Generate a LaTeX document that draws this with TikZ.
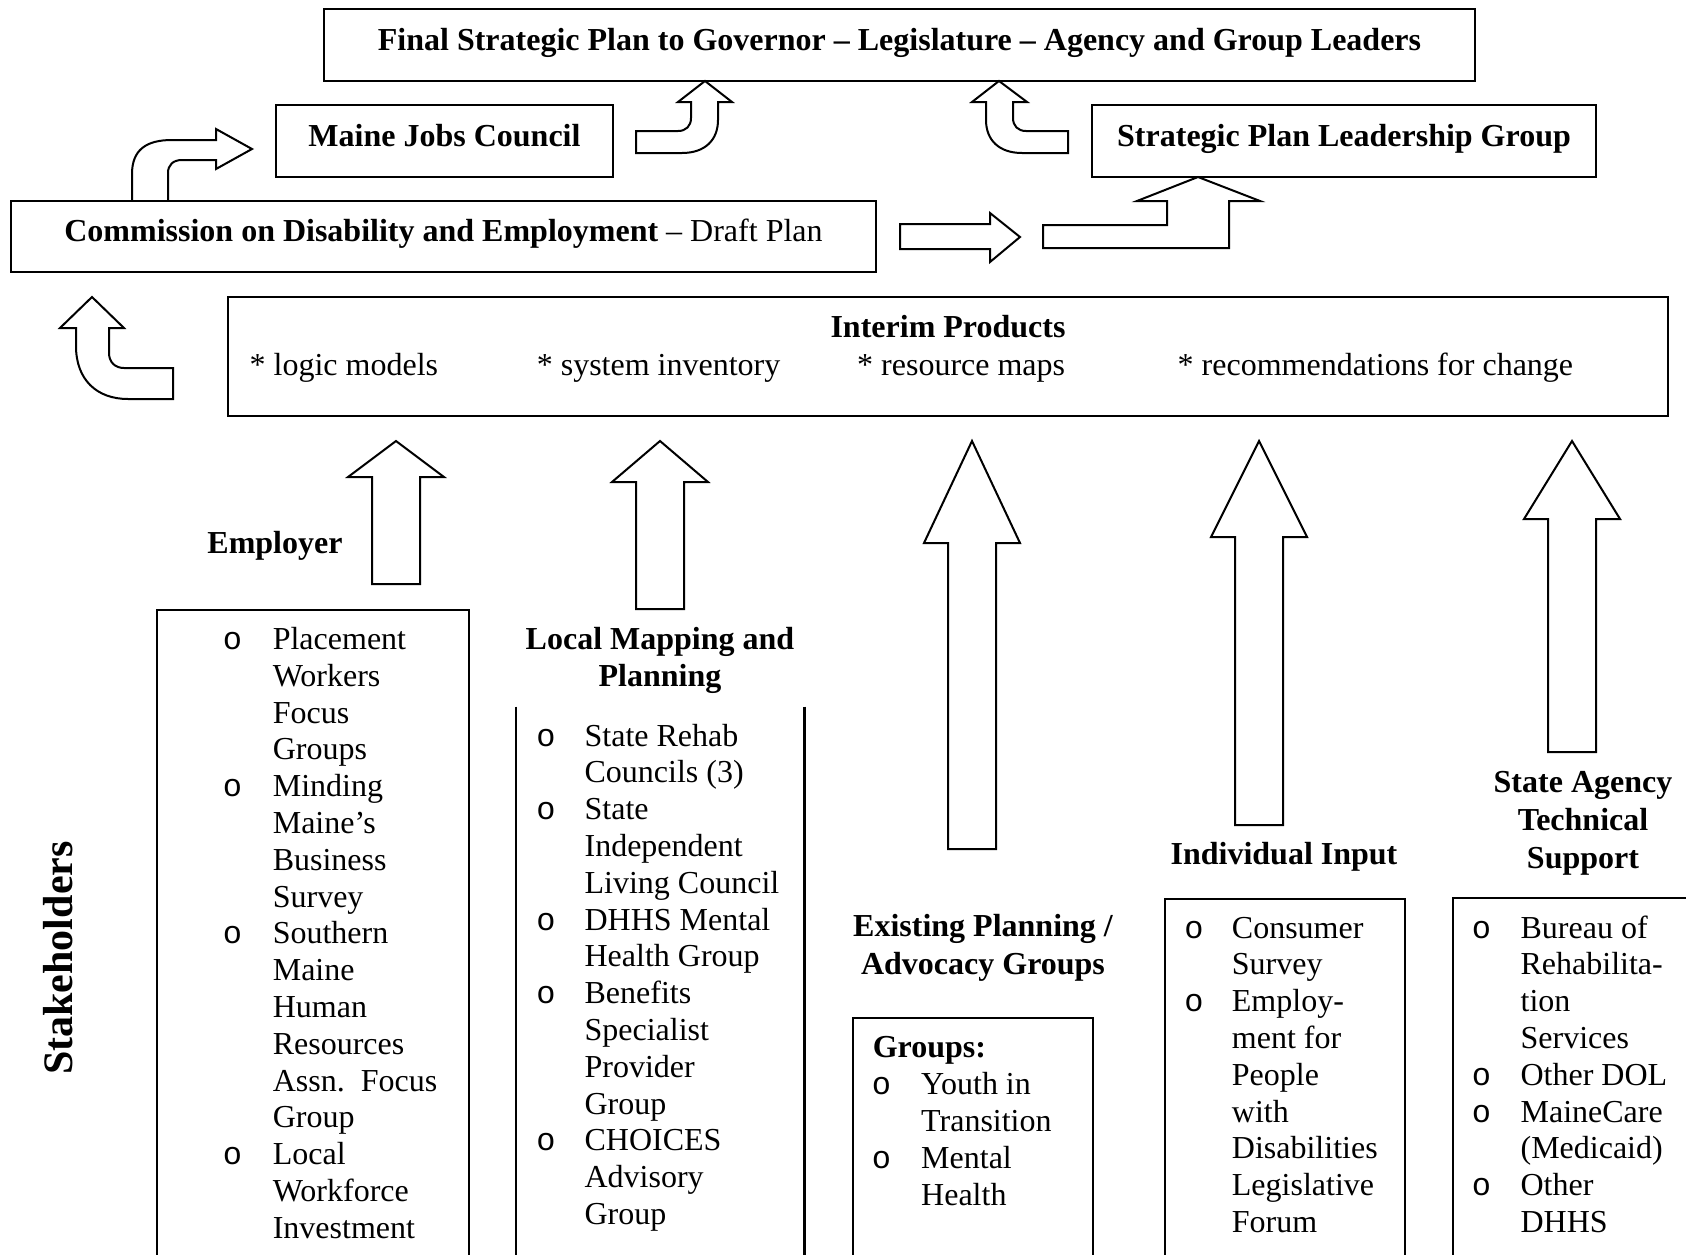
\documentclass[tikz,border=0pt]{standalone}
\usepackage{fontspec}
\setmainfont{Liberation Serif}
\newfontfamily\bulletfont{Liberation Mono}
\usepackage{tikz}
\usetikzlibrary{positioning}
\newcommand{\bsz}{\fontsize{32}{36.8}\selectfont}

\begin{document}
\begin{tikzpicture}[x=1pt, y=-1pt,
  box/.style={draw, line width=2.4pt, inner sep=0pt, text height=21.7pt, text depth=11pt},
  head/.style={font=\fontsize{32}{37.7}\selectfont\bfseries, align=center, inner sep=0pt},
  txt/.style={font=\bsz, inner sep=0pt},
  lne/.style={font=\bsz, anchor=base west, inner sep=0pt},
  bul/.style={font=\bsz\bulletfont, anchor=base, inner sep=0pt},
  blk/.style={draw, line width=2pt, line join=miter}]
\useasboundingbox (0,0) rectangle (1686,1255);
\clip (0,0) rectangle (1686,1255);
% plan levels
\node[box, head, minimum width=1151pt, minimum height=72pt] (final) at (899.5,45) {Final Strategic Plan to Governor -- Legislature -- Agency and Group Leaders};
\node[box, head, minimum width=337pt, minimum height=72pt] (mjc) at (444.5,141) {Maine Jobs Council};
\node[box, head, minimum width=504pt, minimum height=72pt] (splg) at (1344,141) {Strategic Plan Leadership Group};
\node[box, txt, minimum width=865pt, minimum height=71pt] (cde) at (443.5,236.5) {\textbf{Commission on Disability and Employment} -- Draft Plan};
\node[box, minimum width=1440pt, minimum height=119pt] (interim) at (948,356.5) {};
\node[head] (ititle) at (948,327) {Interim Products};
\foreach \x/\t [count=\i] in {249.5/logic models, 536.6/system inventory, 857/resource maps, 1177.5/recommendations for change}
  \node[lne] (item\i) at (\x,375) {* \t};
% bent arrows
\draw[blk] (76,328) -- (76,346) .. controls (76,380) and (97,399) .. (128,399) -- (173,399) -- (173,368) -- (124,368) .. controls (115,368) and (109,362) .. (109,353) -- (109,328) -- (124,328) -- (92,297) -- (60,328) -- cycle;
\draw[blk] (132,200) -- (132,174) .. controls (132,150) and (146,140) .. (172,140) -- (216,140) -- (216,129) -- (252,149) -- (216,169) -- (216,160) -- (182,160) .. controls (173,160) and (168,165) .. (168,173) -- (168,200);
\draw[blk] (636,131) -- (678,131) .. controls (686,131) and (691,126) .. (691,118) -- (691,102) -- (678,102) -- (705,81) -- (732,102) -- (718,102) -- (718,120) .. controls (718,140) and (705,153) .. (682,153) -- (636,153) -- cycle;
\draw[blk] (1068,131) -- (1026,131) .. controls (1018,131) and (1013,126) .. (1013,118) -- (1013,102) -- (1027,102) -- (999,81) -- (972,102) -- (986,102) -- (986,120) .. controls (986,140) and (999,153) .. (1022,153) -- (1068,153) -- cycle;
\draw[blk] (900,224) -- (990,224) -- (990,213) -- (1020,237) -- (990,262) -- (990,249) -- (900,249) -- cycle;
\draw[blk] (1043,225) -- (1167,225) -- (1167,201) -- (1137,201) -- (1198,177) -- (1260,201) -- (1229,201) -- (1229,248) -- (1043,248) -- cycle;
% input arrows
\foreach \x/\b/\e in {396/477/584, 660/482/609, 972/543/849, 1259/537/825, 1572/519/752}
  \draw[blk] (\x,441) -- (\x+48,\b) -- (\x+24,\b) -- (\x+24,\e) -- (\x-24,\e) -- (\x-24,\b) -- (\x-48,\b) -- cycle;
% stakeholder groups
\node[head, font=\fontsize{42}{48}\selectfont\bfseries, rotate=90] (stake) at (58,958) {Stakeholders};
\node[head] (emp) at (275,546) {Employer};
\node[head] (lmp) at (660,660.5) {Local Mapping and\\Planning};
\node[head] (epa) at (983,947.5) {Existing Planning /\\Advocacy Groups};
\node[head] (ind) at (1284,857) {Individual Input};
\node[head] (sat) at (1583,823.5) {State Agency\\Technical\\Support};
\node[box, minimum width=312pt, minimum height=700pt, anchor=north west] (empbox) at (156,609) {};
\node[inner sep=0pt, minimum width=288pt, minimum height=600pt, anchor=north west] (lmpbox) at (516,706.5) {};
\draw[line width=2.4pt] (lmpbox.north west) -- (lmpbox.south west) (lmpbox.north east) -- (lmpbox.south east);
\node[box, minimum width=240pt, minimum height=300pt, anchor=north west] (grpbox) at (852,1017) {};
\node[box, minimum width=240pt, minimum height=400pt, anchor=north west] (indbox) at (1164,898) {};
\node[box, minimum width=300pt, minimum height=400pt, anchor=north west] (satbox) at (1452,897) {};
% lists
\foreach \t [count=\i] in {Placement, Workers, Focus, Groups, Minding, Maine’s, Business, Survey, Southern, Maine, Human, Resources, Assn.\ \ Focus, Group, Local, Workforce, Investment}
  \node[lne] (emp\i) at (272.6,{649.5+(\i-1)*36.8}) {\t};
\foreach \i in {1,5,9,15} \node[bul] (empb\i) at (232.5,{649.5+(\i-1)*36.8}) {o};
\foreach \t [count=\i] in {State Rehab, Councils (3), State, Independent, Living Council, DHHS Mental, Health Group, Benefits, Specialist, Provider, Group, CHOICES, Advisory, Group}
  \node[lne] (lmp\i) at (584.4,{746+(\i-1)*36.8}) {\t};
\foreach \i in {1,3,6,8,12} \node[bul] (lmpb\i) at (546,{746+(\i-1)*36.8}) {o};
\node[lne, font=\bsz\bfseries] (grp0) at (872.6,1057) {Groups:};
\foreach \t [count=\i] in {Youth in, Transition, Mental, Health}
  \node[lne] (grp\i) at (921,{1058+\i*36.8}) {\t};
\foreach \i in {1,3} \node[bul] (grpb\i) at (881.5,{1058+\i*36.8}) {o};
\foreach \t [count=\i] in {Consumer, Survey, Employ-, ment for, People, with, Disabilities, Legislative, Forum}
  \node[lne] (ind\i) at (1231.7,{938+(\i-1)*36.8}) {\t};
\foreach \i in {1,3} \node[bul] (indb\i) at (1194,{938+(\i-1)*36.8}) {o};
\foreach \t [count=\i] in {Bureau of, Rehabilita-, tion, Services, Other DOL, MaineCare, {(Medicaid)}, Other, DHHS}
  \node[lne] (sat\i) at (1520.4,{938+(\i-1)*36.8}) {\t};
\foreach \i in {1,5,6,8} \node[bul] (satb\i) at (1481.5,{938+(\i-1)*36.8}) {o};
\end{tikzpicture}
\end{document}
